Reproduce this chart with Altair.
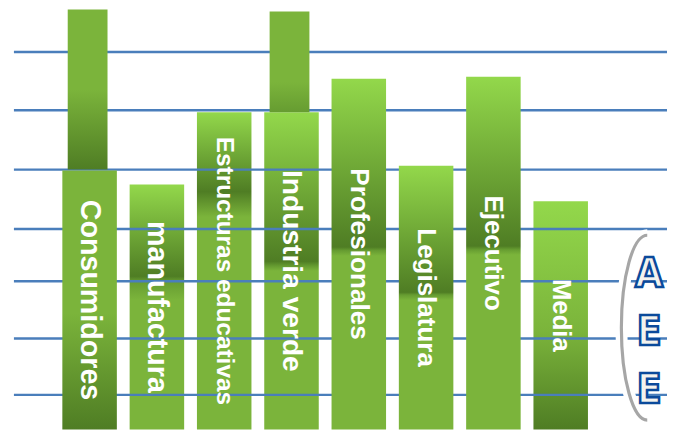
import altair as alt
import pandas as pd

# ---------------- data ----------------
categories = ["Consumidores", "manufactura", "Estructuras educativas", "Industria verde",
              "Profesionales", "Legislatura", "Ejecutivo", "Media"]
labels = ["Consumidores", "manufactura", "Estructuras  educativas", "Industria verde",
          "Profesionales", "Legislatura", "Ejecutivo", "Media"]
bar_values = [262, 248, 321, 321, 355, 267, 357, 231]

upper_categories = ["Consumidores", "Industria verde"]
upper_base = [263, 321]
upper_top = [425, 423]

line_levels = [382, 323, 263, 203, 150, 92, 35]
logo_letters = ["A", "E", "E"]

# ---------------- styles ----------------
LIGHT, MID, DARK, SHADE = "#93D84B", "#7BB43B", "#4F7D24", "#669C31"
BLUE = "#4A7EBB"


def grad(stops):
    return {"gradient": "linear", "x1": 0, "y1": 0, "x2": 0, "y2": 1,
            "stops": [{"offset": o, "color": c} for o, c in stops]}


lower_grad = {
    "Consumidores": [(0, MID), (0.55, MID), (1, DARK)],
    "manufactura": [(0, LIGHT), (0.375, DARK), (0.395, SHADE), (0.47, MID), (1, MID)],
    "Estructuras educativas": [(0, LIGHT), (0.25, DARK), (0.33, MID), (1, MID)],
    "Industria verde": [(0, LIGHT), (0.47, DARK), (0.485, SHADE), (0.50, MID), (1, MID)],
    "Profesionales": [(0, LIGHT), (0.48, DARK), (0.49, SHADE), (0.505, MID), (1, MID)],
    "Legislatura": [(0, LIGHT), (0.48, DARK), (0.49, SHADE), (0.51, MID), (1, MID)],
    "Ejecutivo": [(0, LIGHT), (0.48, DARK), (0.49, SHADE), (0.505, MID), (1, MID)],
    "Media": [(0, LIGHT), (0.57, MID), (1, DARK)],
}
upper_grad = {
    "Consumidores": [(0, MID), (0.5, MID), (1, DARK)],
    "Industria verde": [(0, MID), (0.7, MID), (1, SHADE)],
}
# bars drawn above the blue lines
front = ["Consumidores", "Profesionales", "Legislatura", "Ejecutivo"]

label_style = {
    "Consumidores": (29, "bold"),
    "manufactura": (29, "bold"),
    "Estructuras educativas": (24.7, "bold"),
    "Industria verde": (28.5, "bold"),
    "Profesionales": (26.5, "bold"),
    "Legislatura": (26.3, "bold"),
    "Ejecutivo": (26.3, "bold"),
    "Media": (26, "bold"),
}
FONT = "Liberation Sans, Arial, Helvetica, sans-serif"

# ---------------- tables ----------------
df = pd.DataFrame({"categoria": categories, "valor": bar_values, "etiqueta": labels})
df_up = pd.DataFrame({"categoria": upper_categories, "base": upper_base, "tope": upper_top})
df_lines = pd.DataFrame({"nivel": line_levels})

xenc = alt.X("categoria:N", sort=categories, axis=None,
             scale=alt.Scale(domain=categories, range=[55, 587],
                             paddingInner=0.19, paddingOuter=0))
yscale = alt.Scale(domain=[0, 424], nice=False, zero=True)


def lower_bar(c):
    return (alt.Chart(df).transform_filter(alt.datum.categoria == c)
            .mark_bar(fill=grad(lower_grad[c]), strokeWidth=0)
            .encode(x=xenc, y=alt.Y("valor:Q", scale=yscale, axis=None)))


def upper_bar(c):
    return (alt.Chart(df_up).transform_filter(alt.datum.categoria == c)
            .mark_bar(fill=grad(upper_grad[c]), strokeWidth=0,
                      width=alt.RelativeBandSize(0.73), xOffset=-2)
            .encode(x=xenc, y=alt.Y("base:Q", scale=yscale, axis=None), y2="tope:Q"))


def label(c):
    size, weight = label_style[c]
    return (alt.Chart(df).transform_filter(alt.datum.categoria == c)
            .transform_calculate(medio="datum.valor / 2")
            .mark_text(angle=90, align="center", baseline="middle", color="white",
                       font=FONT, fontSize=size, fontWeight=weight)
            .encode(x=xenc, y=alt.Y("medio:Q", scale=yscale, axis=None),
                    text="etiqueta:N"))


layers = []
layers += [lower_bar(c) for c in categories if c not in front]
layers.append(
    alt.Chart(df_lines).mark_rule(color=BLUE, strokeWidth=2.5)
    .encode(y=alt.Y("nivel:Q", scale=yscale, axis=None),
            x=alt.value(6), x2=alt.value(667))
)
layers += [lower_bar(c) for c in categories if c in front]
layers += [upper_bar(c) for c in upper_categories]
layers += [label(c) for c in categories]

# logo: open ellipse with the letters A E E
ellipse = "M 0,-1 A 0.28,1 0 0,0 0,1"
one = pd.DataFrame({"k": [0]})
layers.append(
    alt.Chart(one).mark_point(shape=ellipse, filled=False, stroke="white",
                              strokeWidth=12, size=35000, opacity=1)
    .encode(x=alt.value(647), y=alt.value(321))
)
layers.append(
    alt.Chart(one).mark_point(shape=ellipse, filled=False, stroke="#A6A6A6",
                              strokeWidth=3.2, size=35000, opacity=1)
    .encode(x=alt.value(647), y=alt.value(321))
)
layers.append(
    alt.Chart(one).mark_text(align="center", baseline="middle", lineHeight=58.5,
                             fontSize=41, fontWeight="bold",
                             font="Liberation Sans Narrow, Arial Narrow, DejaVu Sans Condensed, Liberation Sans, sans-serif",
                             fill="#F3F3EE", stroke="#0B4A9B", strokeWidth=2.5)
    .encode(x=alt.value(649), y=alt.value(268), text=alt.value(logo_letters))
)

chart = (alt.layer(*layers)
         .properties(width=667, height=424, padding=0,
                     autosize=alt.AutoSizeParams(type="none"), background="white")
         .configure_view(stroke=None))

chart.save("out.html", embed_options={"renderer": "svg", "actions": False})
